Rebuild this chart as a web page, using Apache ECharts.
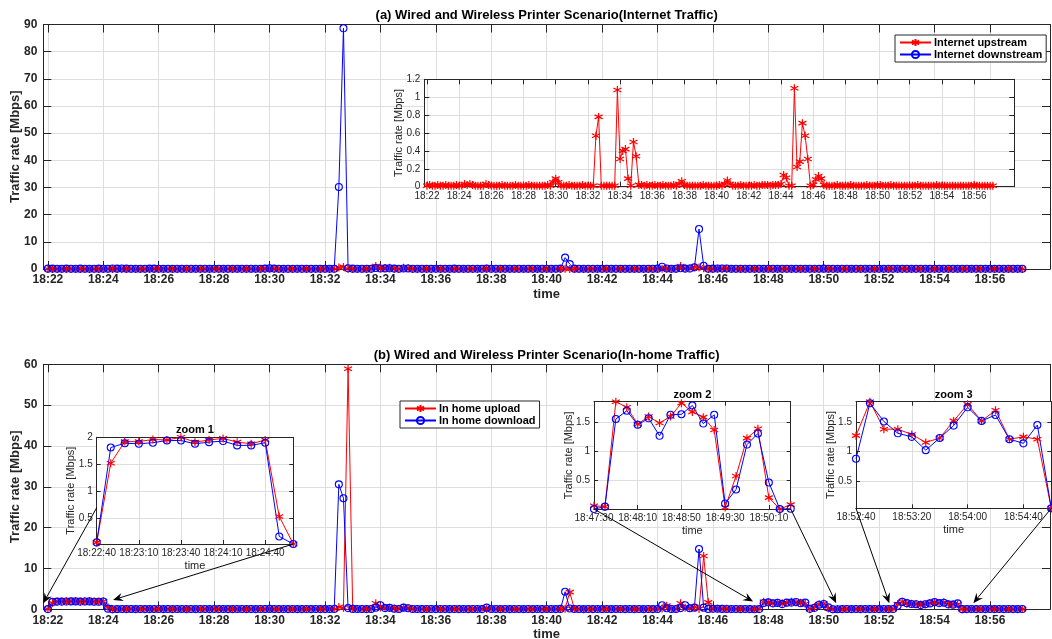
<!DOCTYPE html>
<html>
<head>
<meta charset="utf-8">
<script src="https://cdn.jsdelivr.net/npm/echarts@6/dist/echarts.min.js"></script>
<style>
  html, body { margin: 0; padding: 0; background: #ffffff; }
  #chart { width: 1052px; height: 639px; }
</style>
</head>
<body>
<div id="chart"></div>
<script>
// ---- measurements: one sample every 10 s starting at 18:22:00 ----
const startClock = '18:22:00';
const sampleStep = 10;

// (a) Internet traffic [Mbps]
const internetUpstream = [
  0.01,0.02,0.01,0.01,0.02,0.01,0.01,0.02,0.01,0.01,
  0.01,0.02,0.01,0.01,0.03,0.02,0.03,0.02,0.01,0.01,
  0.01,0.01,0.03,0.02,0.01,0.01,0.01,0.01,0.02,0.01,
  0.01,0.01,0.01,0.02,0.01,0.01,0.01,0.01,0.02,0.01,
  0.01,0.01,0.01,0.01,0.01,0.02,0.01,0.05,0.09,0.05,
  0.01,0.01,0.01,0.02,0.01,0.01,0.01,0.01,0.02,0.01,
  0.01,0.01,0.01,0.57,0.78,0.01,0.01,0.01,0.01,0.01,
  0.01,1.08,0.31,0.40,0.42,0.09,0.01,0.50,0.34,0.02,
  0.02,0.01,0.02,0.01,0.01,0.02,0.01,0.01,0.02,0.01,
  0.01,0.01,0.02,0.01,0.03,0.06,0.02,0.01,0.01,0.01,
  0.01,0.01,0.01,0.02,0.01,0.01,0.01,0.01,0.01,0.02,
  0.01,0.03,0.07,0.03,0.01,0.01,0.01,0.02,0.01,0.01,
  0.01,0.01,0.02,0.01,0.01,0.02,0.02,0.02,0.01,0.02,
  0.02,0.02,0.03,0.13,0.10,0.01,0.01,1.10,0.22,0.28,
  0.71,0.57,0.31,0.01,0.02,0.08,0.12,0.09,0.02,0.01,
  0.01,0.01,0.01,0.02,0.01,0.01,0.01,0.01,0.02,0.01,
  0.01,0.01,0.01,0.01,0.02,0.01,0.01,0.01,0.02,0.02,
  0.01,0.01,0.01,0.02,0.01,0.01,0.01,0.01,0.01,0.01,
  0.01,0.01,0.01,0.02,0.01,0.01,0.01,0.01,0.01,0.01,
  0.02,0.01,0.01,0.01,0.01,0.01,0.01,0.01,0.01,0.01,
  0.01,0.01,0.01,0.01,0.02,0.01,0.01,0.01,0.01,0.01,
  0.01,0.01
];
const internetDownstream = [
  0.12,0.15,0.10,0.08,0.14,0.11,0.09,0.13,0.10,0.08,
  0.09,0.12,0.10,0.11,0.16,0.13,0.18,0.12,0.10,0.09,
  0.08,0.10,0.15,0.12,0.09,0.08,0.10,0.09,0.11,0.08,
  0.07,0.09,0.08,0.10,0.09,0.08,0.07,0.09,0.10,0.08,
  0.08,0.09,0.07,0.08,0.09,0.10,0.08,0.14,0.22,0.15,
  0.09,0.08,0.07,0.09,0.08,0.07,0.08,0.09,0.10,0.08,
  0.09,0.08,0.10,30.2,88.6,0.25,0.12,0.10,0.09,0.11,
  0.10,0.35,0.20,0.22,0.24,0.15,0.10,0.21,0.18,0.09,
  0.10,0.09,0.11,0.08,0.09,0.10,0.08,0.09,0.12,0.08,
  0.09,0.08,0.10,0.09,0.11,0.14,0.10,0.08,0.09,0.08,
  0.08,0.09,0.08,0.10,0.09,0.08,0.09,0.08,0.09,0.10,
  0.09,0.15,4.20,1.80,0.12,0.10,0.09,0.10,0.08,0.09,
  0.08,0.09,0.10,0.09,0.08,0.10,0.11,0.10,0.09,0.10,
  0.11,0.10,0.12,0.85,0.18,0.10,0.09,0.30,0.14,0.16,
  0.60,14.70,1.20,0.10,0.12,0.16,0.20,0.17,0.11,0.09,
  0.09,0.08,0.10,0.09,0.08,0.09,0.10,0.08,0.11,0.09,
  0.08,0.09,0.08,0.10,0.11,0.09,0.08,0.09,0.12,0.10,
  0.09,0.08,0.09,0.10,0.08,0.09,0.08,0.09,0.08,0.09,
  0.08,0.09,0.10,0.11,0.09,0.08,0.09,0.08,0.09,0.08,
  0.10,0.09,0.08,0.09,0.08,0.09,0.08,0.09,0.08,0.09,
  0.08,0.09,0.08,0.09,0.10,0.08,0.09,0.08,0.09,0.08,
  0.09,0.08
];

// (b) In-home traffic [Mbps]
const homeUpload = [
  0.05,1.52,1.92,1.92,1.96,1.95,2.00,1.91,1.95,1.98,
  1.91,1.88,1.95,0.53,0.02,0.06,0.05,0.08,0.06,0.05,
  0.05,0.07,0.06,0.05,0.08,0.06,0.05,0.06,0.07,0.05,
  0.06,0.05,0.07,0.06,0.05,0.06,0.08,0.05,0.06,0.05,
  0.06,0.07,0.05,0.06,0.05,0.06,0.07,0.09,0.12,0.08,
  0.06,0.05,0.06,0.07,0.05,0.06,0.05,0.06,0.07,0.05,
  0.06,0.05,0.07,0.55,0.40,58.9,0.25,0.10,0.08,0.07,
  0.10,1.50,0.45,0.35,0.40,0.20,0.10,0.45,0.30,0.08,
  0.07,0.06,0.08,0.06,0.07,0.06,0.05,0.07,0.08,0.06,
  0.06,0.07,0.06,0.05,0.07,0.10,0.08,0.06,0.05,0.06,
  0.07,0.06,0.05,0.06,0.07,0.05,0.06,0.07,0.06,0.05,
  0.06,0.08,0.15,4.20,0.10,0.07,0.06,0.05,0.06,0.07,
  0.06,0.05,0.07,0.06,0.05,0.06,0.07,0.06,0.05,0.06,
  0.07,0.06,0.08,0.20,0.90,0.10,0.08,1.50,0.35,0.30,
  0.60,0.10,13.05,1.70,0.10,0.12,0.15,0.12,0.08,0.06,
  0.05,0.06,0.05,0.072,0.055,1.855,1.76,1.47,1.60,1.49,
  1.60,1.83,1.68,1.59,1.37,0.04,0.58,1.23,1.39,0.21,
  0.015,0.09,0.05,0.06,0.05,0.06,0.05,0.07,0.05,0.06,
  0.05,0.06,0.07,0.05,1.27,1.845,1.38,1.38,1.29,1.155,
  1.23,1.52,1.80,1.52,1.70,1.21,1.25,1.21,0.04,0.05,
  0.06,0.05,0.06,0.05,0.07,0.05,0.06,0.05,0.06,0.05,
  0.06,0.05
];
const homeDownload = [
  0.05,1.81,1.89,1.88,1.90,1.94,1.94,1.88,1.91,1.93,
  1.85,1.85,1.90,0.16,0.02,0.05,0.06,0.05,0.07,0.05,
  0.06,0.05,0.05,0.07,0.06,0.05,0.06,0.05,0.06,0.07,
  0.05,0.06,0.05,0.06,0.07,0.05,0.06,0.05,0.06,0.05,
  0.05,0.06,0.06,0.05,0.06,0.05,0.06,0.08,0.10,0.07,
  0.05,0.06,0.05,0.06,0.05,0.05,0.06,0.05,0.06,0.05,
  0.05,0.06,0.08,30.6,27.2,0.30,0.10,0.07,0.06,0.05,
  0.08,0.40,1.00,0.30,0.35,0.15,0.08,0.40,0.25,0.07,
  0.06,0.05,0.07,0.06,0.05,0.06,0.07,0.05,0.06,0.05,
  0.06,0.05,0.07,0.06,0.05,0.40,0.07,0.06,0.05,0.06,
  0.05,0.06,0.07,0.05,0.06,0.05,0.06,0.05,0.07,0.06,
  0.05,0.10,4.30,0.20,0.08,0.06,0.05,0.06,0.05,0.06,
  0.05,0.06,0.05,0.07,0.06,0.05,0.06,0.05,0.06,0.05,
  0.06,0.05,0.07,1.00,0.25,0.08,0.07,0.30,1.00,0.25,
  0.40,14.77,0.40,0.10,0.12,0.15,0.10,0.08,0.07,0.06,
  0.05,0.06,0.05,0.015,0.055,1.558,1.70,1.46,1.57,1.27,
  1.63,1.64,1.79,1.48,1.63,0.11,0.35,1.12,1.31,0.47,
  0.015,0.02,0.05,0.06,0.05,0.06,0.05,0.06,0.05,0.06,
  0.05,0.06,0.05,0.06,0.88,1.82,1.51,1.31,1.25,1.025,
  1.23,1.44,1.75,1.52,1.62,1.21,1.14,1.45,0.04,0.05,
  0.06,0.05,0.06,0.05,0.06,0.05,0.06,0.05,0.06,0.05,
  0.05,0.06
];

// axis tick labels
const mainTickLabels = ['18:22','18:24','18:26','18:28','18:30','18:32','18:34','18:36','18:38',
  '18:40','18:42','18:44','18:46','18:48','18:50','18:52','18:54','18:56'];
const internetTicks = [0, 10, 20, 30, 40, 50, 60, 70, 80, 90];
const homeTicks = [0, 10, 20, 30, 40, 50, 60];
const upstreamInsetTicks = [0, 0.2, 0.4, 0.6, 0.8, 1, 1.2];
const zoom1TickLabels = ['18:22:40','18:23:10','18:23:40','18:24:10','18:24:40'];
const zoom2TickLabels = ['18:47:30','18:48:10','18:48:50','18:49:30','18:50:10'];
const zoom3TickLabels = ['18:52:40','18:53:20','18:54:00','18:54:40'];
const zoom1ValueTicks = [0.5, 1, 1.5, 2];
const zoom2ValueTicks = [0.5, 1, 1.5];
const zoom3ValueTicks = [0.5, 1, 1.5];

// zoomed windows (sample index ranges) and the clock shift used on their time labels
const zoom1Samples = [0, 14];
const zoom2Samples = [153, 171];
const zoom3Samples = [184, 198];
const zoom1LabelShift = 40;

// ---- helpers ----
function clockToSec(s) {
  const p = s.split(':').map(Number);
  return p[0] * 3600 + p[1] * 60 + (p[2] || 0);
}
const t0 = clockToSec(startClock);
function pad(n) { return (n < 10 ? '0' : '') + n; }
function secToClock(sec, withSeconds) {
  const h = Math.floor(sec / 3600), m = Math.floor((sec % 3600) / 60), s = Math.round(sec % 60);
  return pad(h) + ':' + pad(m) + (withSeconds ? ':' + pad(s) : '');
}
function toPairs(arr, from, to) {
  const out = [];
  const a = from == null ? 0 : from, b = to == null ? arr.length - 1 : to;
  for (let i = a; i <= b; i++) out.push([i * sampleStep, arr[i]]);
  return out;
}
function windowMin(a, b, r) {
  let m = Infinity;
  for (let i = r[0]; i <= r[1]; i++) m = Math.min(m, a[i], b[i]);
  return m;
}
function windowMax(a, b, r) {
  let m = -Infinity;
  for (let i = r[0]; i <= r[1]; i++) m = Math.max(m, a[i], b[i]);
  return m;
}

const INK = '#262626';
const GRIDLINE = '#dedede';
const FONT = '"Liberation Sans", Arial, Helvetica, sans-serif';
const STAR = 'path://M5,0L5,10M0.67,2.5L9.33,7.5M0.67,7.5L9.33,2.5';
const RED = '#ff0000';
const BLUE = '#0000ff';

// ---- layout of the six plotting boxes ----
const boxes = [
  { left: 43.3, top: 24.5, width: 1006.7, height: 244.5 },   // (a)
  { left: 424.3, top: 79.3, width: 590, height: 107.4 },     // (a) upstream inset
  { left: 43.3, top: 364.3, width: 1006.7, height: 245 },    // (b)
  { left: 96.7, top: 437.3, width: 196.6, height: 106.7 },   // zoom 1
  { left: 594, top: 401.7, width: 196.7, height: 107.3 },    // zoom 2
  { left: 856, top: 401.7, width: 195.3, height: 106.6 }     // zoom 3
];

const grids = boxes.map((b, i) => ({
  left: b.left, top: b.top, width: b.width, height: b.height,
  show: true, backgroundColor: '#ffffff', borderWidth: 0,
  z: i === 0 || i === 2 ? 0 : 5,
  containLabel: false, outerBoundsMode: 'none'
}));

const xAxes = [];
const yAxes = [];

// one box: bottom/left axes carry labels and grid lines, top/right mirror the ticks
function addAxes(g, c) {
  const inner = (vals, lo, hi) => vals.filter(v => v > lo + 1e-9 && v < hi - 1e-9);
  const tickFont = { color: INK, fontSize: c.tickSize, fontWeight: c.bold ? 'bold' : 'normal', fontFamily: FONT };
  const nameFont = { color: INK, fontSize: c.nameSize, fontWeight: c.bold ? 'bold' : 'normal', fontFamily: FONT };
  const xi = xAxes.length, yi = yAxes.length;
  const xTickVals = inner(c.xTicks, c.xMin, c.xMax);
  const yTickVals = inner(c.yTicks, c.yMin, c.yMax);
  xAxes.push({
    type: 'value', gridIndex: g, position: 'bottom', min: c.xMin, max: c.xMax, z: c.z,
    axisLine: { show: true, onZero: false, lineStyle: { color: INK, width: 1 } },
    axisTick: { show: true, inside: true, length: c.tickLen, customValues: xTickVals, lineStyle: { color: INK, width: 1 } },
    axisLabel: Object.assign({ show: true, customValues: c.xTicks, formatter: c.xFmt, margin: c.xMargin, hideOverlap: false }, tickFont),
    splitLine: { show: true, lineStyle: { color: GRIDLINE, width: 1 } },
    name: c.xName, nameLocation: 'middle', nameGap: c.xNameGap, nameMoveOverlap: false, nameTextStyle: nameFont
  });
  xAxes.push({
    type: 'value', gridIndex: g, position: 'top', min: c.xMin, max: c.xMax, z: c.z,
    axisLine: { show: true, onZero: false, lineStyle: { color: INK, width: 1 } },
    axisTick: { show: true, inside: true, length: c.tickLen, customValues: xTickVals, lineStyle: { color: INK, width: 1 } },
    axisLabel: { show: false }, splitLine: { show: false }
  });
  yAxes.push({
    type: 'value', gridIndex: g, position: 'left', min: c.yMin, max: c.yMax, z: c.z,
    axisLine: { show: true, onZero: false, lineStyle: { color: INK, width: 1 } },
    axisTick: { show: true, inside: true, length: c.tickLen, customValues: yTickVals, lineStyle: { color: INK, width: 1 } },
    axisLabel: Object.assign({ show: true, customValues: c.yTicks, formatter: v => String(+v.toFixed(2)), margin: c.yMargin, hideOverlap: false }, tickFont),
    splitLine: { show: true, lineStyle: { color: GRIDLINE, width: 1 } },
    name: c.yName, nameLocation: 'middle', nameGap: c.yNameGap, nameMoveOverlap: false, nameTextStyle: nameFont
  });
  yAxes.push({
    type: 'value', gridIndex: g, position: 'right', min: c.yMin, max: c.yMax, z: c.z,
    axisLine: { show: true, onZero: false, lineStyle: { color: INK, width: 1 } },
    axisTick: { show: true, inside: true, length: c.tickLen, customValues: yTickVals, lineStyle: { color: INK, width: 1 } },
    axisLabel: { show: false }, splitLine: { show: false }
  });
  return { x: xi, y: yi };
}

const mainTickSecs = mainTickLabels.map(s => clockToSec(s + ':00') - t0);
const mainFmt = v => secToClock(t0 + v, false);
const YNAME = 'Traffic rate [Mbps]';

const axA = addAxes(0, {
  xMin: -10, xMax: 2170, xTicks: mainTickSecs, xFmt: mainFmt,
  yMin: 0, yMax: 90, yTicks: internetTicks, tickSize: 12, nameSize: 13, bold: true,
  tickLen: 8, xMargin: 5, yMargin: 6, xName: 'time', xNameGap: 19, yName: YNAME, yNameGap: 21, z: 0
});
const axInset = addAxes(1, {
  xMin: -10, xMax: 2190, xTicks: mainTickSecs, xFmt: mainFmt,
  yMin: 0, yMax: 1.2, yTicks: upstreamInsetTicks, tickSize: 10, nameSize: 11, bold: false,
  tickLen: 5, xMargin: 5, yMargin: 4, xName: '', xNameGap: 0, yName: YNAME, yNameGap: 20, z: 5
});
const axB = addAxes(2, {
  xMin: -10, xMax: 2170, xTicks: mainTickSecs, xFmt: mainFmt,
  yMin: 0, yMax: 60, yTicks: homeTicks, tickSize: 12, nameSize: 13, bold: true,
  tickLen: 8, xMargin: 5, yMargin: 6, xName: 'time', xNameGap: 19, yName: YNAME, yNameGap: 21, z: 0
});

function zoomAxes(g, range, tickLabels, valueTicks, shift) {
  const xMin = range[0] * sampleStep, xMax = range[1] * sampleStep;
  return addAxes(g, {
    xMin, xMax,
    xTicks: tickLabels.map(s => clockToSec(s) - t0 - shift),
    xFmt: v => secToClock(t0 + v + shift, true),
    yMin: windowMin(homeUpload, homeDownload, range), yMax: windowMax(homeUpload, homeDownload, range),
    yTicks: valueTicks, tickSize: 10, nameSize: 11, bold: false,
    tickLen: 4, xMargin: 4, yMargin: 4, xName: 'time', xNameGap: 16, yName: YNAME, yNameGap: 20, z: 5
  });
}
const axZ1 = zoomAxes(3, zoom1Samples, zoom1TickLabels, zoom1ValueTicks, zoom1LabelShift);
const axZ2 = zoomAxes(4, zoom2Samples, zoom2TickLabels, zoom2ValueTicks, 0);
const axZ3 = zoomAxes(5, zoom3Samples, zoom3TickLabels, zoom3ValueTicks, 0);

function line(name, data, color, marker, ax, z) {
  const s = {
    type: 'line', name, data, xAxisIndex: ax.x, yAxisIndex: ax.y, z,
    showSymbol: true, showAllSymbol: true, symbolSize: 8, clip: true,
    lineStyle: { color, width: 1 }, emphasis: { disabled: true }, animation: false
  };
  if (marker === 'star') {
    s.symbol = STAR;
    s.itemStyle = { color, borderColor: color, borderWidth: 1.2 };
  } else {
    s.symbol = 'circle';
    s.symbolSize = 7;
    s.itemStyle = { color: 'rgba(255,255,255,0)', borderColor: color, borderWidth: 1.1 };
  }
  return s;
}

const series = [
  line('Internet upstream', toPairs(internetUpstream), RED, 'star', axA, 2),
  line('Internet downstream', toPairs(internetDownstream), BLUE, 'circle', axA, 2),
  line('Internet upstream', toPairs(internetUpstream), RED, 'star', axInset, 6),
  line('In home upload', toPairs(homeUpload), RED, 'star', axB, 2),
  line('In home download', toPairs(homeDownload), BLUE, 'circle', axB, 2)
];
[[axZ1, zoom1Samples], [axZ2, zoom2Samples], [axZ3, zoom3Samples]].forEach(([ax, r]) => {
  series.push(line('In home upload', toPairs(homeUpload, r[0], r[1]), RED, 'star', ax, 6));
  series.push(line('In home download', toPairs(homeDownload, r[0], r[1]), BLUE, 'circle', ax, 6));
});

function legendBox(names, left, top) {
  return {
    data: names, left, top, orient: 'vertical', z: 10,
    backgroundColor: '#ffffff', borderColor: INK, borderWidth: 1, borderRadius: 0,
    padding: [2, 4, 2, 4], itemGap: 1, itemWidth: 31, itemHeight: 9,
    selectedMode: false,
    textStyle: { color: '#000000', fontSize: 11, fontWeight: 'bold', fontFamily: FONT, lineHeight: 11, padding: [0, 0, 0, -2] }
  };
}

const chart = echarts.init(document.getElementById('chart'), null, { renderer: 'canvas' });
chart.setOption({
  animation: false,
  backgroundColor: '#ffffff',
  grid: grids,
  xAxis: xAxes,
  yAxis: yAxes,
  legend: [
    legendBox(['Internet upstream', 'Internet downstream'], 895, 35),
    legendBox(['In home upload', 'In home download'], 400, 401)
  ],
  series
});

// titles and zoom arrows
function title(text, box, dy, size) {
  return {
    type: 'text', z: 20, silent: true,
    style: {
      text, x: box.left + box.width / 2, y: box.top - dy,
      align: 'center', verticalAlign: 'middle', textAlign: 'center', textVerticalAlign: 'middle',
      font: 'bold ' + size + 'px ' + FONT, fill: '#000000'
    }
  };
}
function arrow(from, to) {
  const dx = to[0] - from[0], dy = to[1] - from[1];
  const len = Math.hypot(dx, dy), ux = dx / len, uy = dy / len, nx = -uy, ny = ux;
  const L = 10, W = 4.2;
  const bx = to[0] - ux * L, by = to[1] - uy * L;
  return [
    { type: 'line', z: 20, silent: true, shape: { x1: from[0], y1: from[1], x2: to[0] - ux * 6, y2: to[1] - uy * 6 },
      style: { stroke: '#000000', lineWidth: 1 } },
    { type: 'polygon', z: 20, silent: true,
      shape: { points: [to, [bx + nx * W, by + ny * W], [to[0] - ux * L * 0.65, to[1] - uy * L * 0.65], [bx - nx * W, by - ny * W]] },
      style: { fill: '#000000' } }
  ];
}
const mainB = { xAxisIndex: axB.x, yAxisIndex: axB.y };
const corner = (b, side) => [b.left + (side === 'r' ? b.width : 0), b.top + b.height];

const graphics = [
  title('(a) Wired and Wireless Printer Scenario(Internet Traffic)', boxes[0], 9, 13),
  title('(b) Wired and Wireless Printer Scenario(In-home Traffic)', boxes[2], 9, 13),
  title('zoom 1', boxes[3], 7, 11),
  title('zoom 2', boxes[4], 7, 11),
  title('zoom 3', boxes[5], 7, 11)
].concat(
  arrow([boxes[3].left, boxes[3].top + boxes[3].height * 0.66], chart.convertToPixel(mainB, [-10, 1.5])),
  arrow(corner(boxes[3], 'r'), chart.convertToPixel(mainB, [141, 2.3])),
  arrow(corner(boxes[4], 'l'), chart.convertToPixel(mainB, [1527, 1.9])),
  arrow(corner(boxes[4], 'r'), chart.convertToPixel(mainB, [1707, 1.5])),
  arrow(corner(boxes[5], 'l'), chart.convertToPixel(mainB, [1822, 1.5])),
  arrow(corner(boxes[5], 'r'), chart.convertToPixel(mainB, [2004, 1.5]))
);
chart.setOption({ graphic: graphics });
</script>
</body>
</html>
